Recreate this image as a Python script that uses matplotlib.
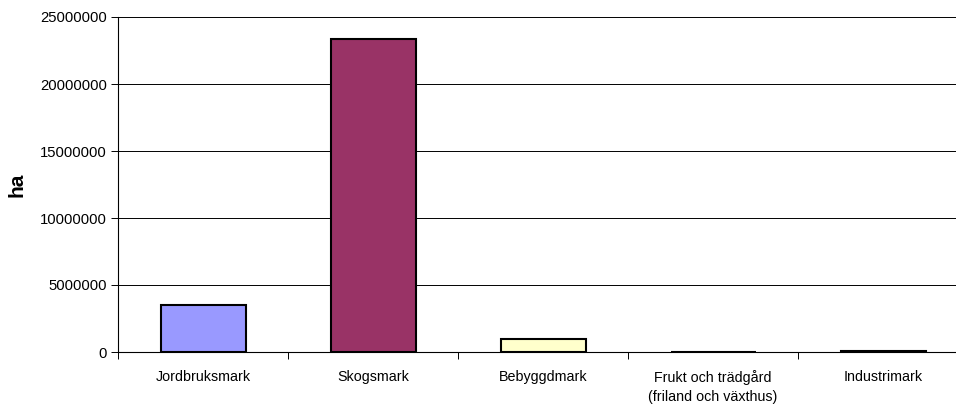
import numpy as np
import matplotlib
matplotlib.use("Agg")
from matplotlib import pyplot as plt

# Data
categories = ['Jordbruksmark', 'Skogsmark', 'Bebyggdmark',
              'Frukt och trädgård\n(friland och växthus)', 'Industrimark']
values = [3500000, 23350000, 980000, 25000, 70000]
colors = ['#9999FF', '#993366', '#FFFFCC', '#CCFFFF', '#660066']
yticks = [0, 5000000, 10000000, 15000000, 20000000, 25000000]

plt.rcParams['font.family'] = ['Liberation Sans', 'DejaVu Sans']

fig = plt.figure(figsize=(9.56, 4.07), dpi=100)
ax = fig.add_axes([118/956, 1-352/407, 850/956, 335/407])

x = np.arange(len(categories))
ax.bar(x, values, width=0.5, color=colors, edgecolor='black', linewidth=1.5, zorder=3)

ax.set_xlim(-0.5, len(categories)-0.5)
ax.set_ylim(0, 25000000)
ax.set_yticks(yticks)
ax.set_yticklabels([str(v) for v in yticks], fontsize=10.7)
ax.yaxis.grid(True, color='black', linewidth=0.7, zorder=0)

ax.set_xticks(x)
ax.set_xticklabels(categories, fontsize=10.3, linespacing=1.45)
ax.set_xticks(np.arange(len(categories)+1)-0.5, minor=True)
ax.tick_params(axis='x', which='major', length=0, pad=13)
ax.tick_params(axis='x', which='minor', length=5, width=0.7, color='black')
ax.tick_params(axis='y', length=5, width=0.7, color='black', pad=3)

for s in ['top', 'right']:
    ax.spines[s].set_visible(False)
ax.spines['left'].set_linewidth(0.8)
ax.spines['bottom'].set_linewidth(0.8)

ax.set_ylabel('ha', fontsize=15, fontweight='bold', labelpad=10)

plt.savefig('out.png', dpi=100)
